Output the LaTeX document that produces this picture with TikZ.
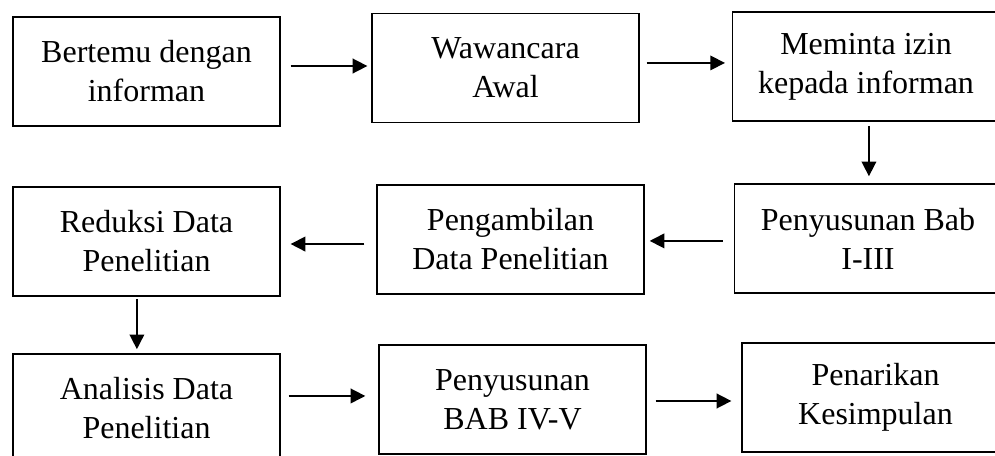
\documentclass[tikz,border=0pt]{standalone}
\usepackage{fontspec}
\setmainfont{Liberation Serif}
\usetikzlibrary{arrows.meta}

\tikzset{
	kotak/.style = {draw, line width=0.6pt, rectangle, minimum width=100pt, minimum height=40.9pt, inner sep=0pt, align=center, font=\fontsize{12}{14.6}\selectfont},
	panah/.style = {-{Triangle[length=5.5pt,width=5.5pt]}, line width=0.6pt}
}

\begin{document}
\begin{tikzpicture}[x=0.375pt, y=-0.375pt]
	\clip (0,0) rectangle (995,456);
		\node[kotak] (bertemu) at (146.5,71.5) {Bertemu dengan\\informan};
		\node[kotak] (wawancara) at (505.5,68) {Wawancara\\Awal};
		\node[kotak] (izin) at (866,66.5) {Meminta izin\\kepada informan};
		\node[kotak] (babI) at (868,238.5) {Penyusunan Bab\\I-III};
		\node[kotak] (ambil) at (510.5,239.5) {Pengambilan\\Data Penelitian};
		\node[kotak] (reduksi) at (146.5,241.5) {Reduksi Data\\Penelitian};
		\node[kotak] (analisis) at (146.5,408.5) {Analisis Data\\Penelitian};
		\node[kotak] (babIV) at (512.5,399.5) {Penyusunan\\BAB IV-V};
		\node[kotak] (tarik) at (875.5,397.5) {Penarikan\\Kesimpulan};
	%	arrows
		\draw[panah, shorten <=3.75pt, shorten >=1.5pt] ([yshift=2.06pt]bertemu.east) -- ([yshift=2.06pt]bertemu.east -| wawancara.west);
		\draw[panah, shorten <=2.6pt, shorten >=2.6pt] ([yshift=1.9pt]wawancara.east) -- ([yshift=1.9pt]wawancara.east -| izin.west);
		\draw[panah, shorten <=1.5pt, shorten >=2.6pt] ([xshift=1.1pt]izin.south) -- ([xshift=1.1pt]izin.south |- babI.north);
		\draw[panah, shorten <=4.1pt, shorten >=1.9pt] ([yshift=-0.9pt]babI.west) -- ([yshift=-0.9pt]babI.west -| ambil.east);
		\draw[panah, shorten <=4.5pt, shorten >=3.75pt] ([yshift=-1.7pt]ambil.west) -- ([yshift=-1.7pt]ambil.west -| reduksi.east);
		\draw[panah, shorten <=0.75pt, shorten >=1.5pt] ([xshift=-3.6pt]reduksi.south) -- ([xshift=-3.6pt]reduksi.south |- analisis.north);
		\draw[panah, shorten <=3pt, shorten >=4.9pt] ([yshift=4.7pt]analisis.east) -- ([yshift=4.7pt]analisis.east -| babIV.west);
		\draw[panah, shorten <=3.4pt, shorten >=3.75pt] ([yshift=-0.56pt]babIV.east) -- ([yshift=-0.56pt]babIV.east -| tarik.west);
\end{tikzpicture}
\end{document}
